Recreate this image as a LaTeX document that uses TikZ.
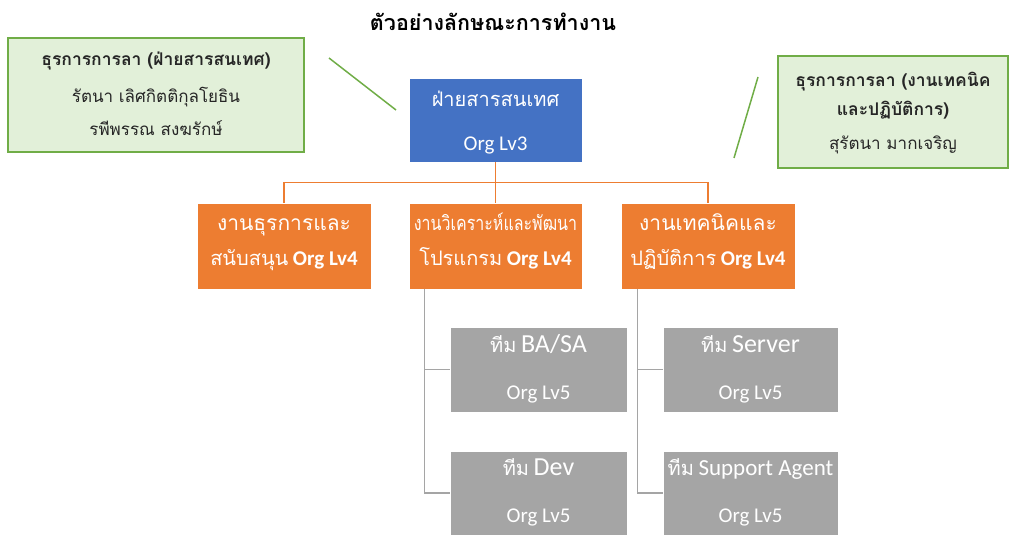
\documentclass[tikz,border=0pt]{standalone}
\usepackage{fontspec}
\usepackage{graphicx}
\setmainfont{Carlito}
\newfontfamily\thaifont[Script=Thai]{Loma}
\newcommand\tht[1]{{\thaifont #1}}
\definecolor{cblue}{HTML}{4472C4}
\definecolor{corange}{HTML}{ED7D31}
\definecolor{cgray}{HTML}{A5A5A5}
\definecolor{cgreenfill}{HTML}{E2F0D9}
\definecolor{cgreenline}{HTML}{70AD47}
\definecolor{ctext}{HTML}{262626}
\tikzset{
  boxbase/.style={rectangle, inner sep=0pt, draw=white, line width=0.6pt},
  bluebox/.style={boxbase, fill=cblue, minimum width=173pt, minimum height=84pt},
  orangebox/.style={boxbase, fill=corange, minimum width=174pt, minimum height=86pt},
  graybox/.style={boxbase, fill=cgray, minimum width=177pt, minimum height=85pt},
  notebox/.style={rectangle, inner sep=0pt, fill=cgreenfill, draw=cgreenline, line width=1.5pt},
  wtext/.style={inner sep=0pt, text=white, font=\fontsize{20}{24}\selectfont, text height=14pt, text depth=5pt},
  ltext/.style={inner sep=0pt, text=white, font=\fontsize{21}{24}\selectfont, text height=14pt, text depth=5pt},
  ntext/.style={inner sep=0pt, text=ctext, font=\fontsize{17}{20}\selectfont, text height=12pt, text depth=4pt},
  nbold/.style={ntext, font=\fontsize{17.5}{20}\selectfont\bfseries},
  orangeline/.style={draw=corange, line width=1.5pt},
  grayline/.style={draw=cgray, line width=1.5pt},
  greenline/.style={draw=cgreenline, line width=1.5pt},
}
\begin{document}
\begin{tikzpicture}[x=1pt,y=-1pt]
\useasboundingbox (0,0) rectangle (1009,535);
% title
\node[inner sep=0pt, text=black, font=\fontsize{21.5}{26}\selectfont\bfseries] (title) at (493,22) {\tht{ตัวอย่างลักษณะการทำงาน}};
% note boxes
\node[notebox, minimum width=296pt, minimum height=114pt] (noteL) at (156,95) {};
\node[nbold] (noteL1) at (156,62) {\tht{ธุรการการลา (ฝ่ายสารสนเทศ)}};
\node[ntext] (noteL2) at (156,98) {\tht{รัตนา เลิศกิตติกุลโยธิน}};
\node[ntext] (noteL3) at (156,131) {\tht{รพีพรรณ สงฆรักษ์}};
\node[notebox, minimum width=230pt, minimum height=112pt] (noteR) at (893,112) {};
\node[nbold] (noteR1) at (893,82) {\tht{ธุรการการลา (งานเทคนิค}};
\node[nbold] (noteR2) at (893,111) {\tht{และปฏิบัติการ)}};
\node[ntext] (noteR3) at (893,145) {\tht{สุรัตนา มากเจริญ}};
% blue
\node[bluebox] (lv3) at (495.5,120) {};
\node[wtext] (lv3a) at (495.5,102) {\tht{ฝ่ายสารสนเทศ}};
\node[ltext] (lv3b) at (495.5,146) {Org Lv3};
% orange
\node[orangebox] (o1) at (284,246) {};
\node[wtext, font=\fontsize{21}{24}\selectfont] (o1a) at (284,226) {\tht{งานธุรการและ}};
\node[wtext] (o1b) at (284,261) {\tht{สนับสนุน} {\fontsize{21}{24}\selectfont\bfseries Org Lv4}};
\node[orangebox, minimum width=173pt] (o2) at (495.5,246) {};
\node[wtext] (o2a) at (495.5,226) {\scalebox{0.8}[1]{\tht{งานวิเคราะห์และพัฒนา}}};
\node[wtext] (o2b) at (495.5,261) {\tht{โปรแกรม} {\fontsize{21}{24}\selectfont\bfseries Org Lv4}};
\node[orangebox] (o3) at (708,246) {};
\node[wtext, font=\fontsize{21}{24}\selectfont] (o3a) at (708,226) {\tht{งานเทคนิคและ}};
\node[wtext] (o3b) at (708,261) {\tht{ปฏิบัติการ} {\fontsize{21}{24}\selectfont\bfseries Org Lv4}};
% gray
\node[graybox] (ba) at (538.5,369.5) {};
\node[wtext] (baa) at (538.5,348) {\tht{ทีม} {\fontsize{26}{30}\selectfont BA/SA}};
\node[ltext] (bab) at (538.5,395) {Org Lv5};
\node[graybox, minimum height=84pt] (dev) at (538.5,493) {};
\node[wtext] (deva) at (538.5,471) {\tht{ทีม} {\fontsize{26}{30}\selectfont Dev}};
\node[ltext] (devb) at (538.5,518) {Org Lv5};
\node[graybox, minimum width=175pt] (srv) at (750.5,369.5) {};
\node[wtext] (srva) at (750.5,348) {\tht{ทีม} {\fontsize{26}{30}\selectfont Server}};
\node[ltext] (srvb) at (750.5,395) {Org Lv5};
\node[graybox, minimum width=175pt, minimum height=84pt] (sup) at (750.5,493) {};
\node[wtext] (supa) at (750.5,471) {\tht{ทีม} {\fontsize{23}{28}\selectfont Support Agent}};
\node[ltext] (supb) at (750.5,518) {Org Lv5};
% connectors
\draw[orangeline] (lv3.south) -- (o2.north);
\draw[orangeline] (o1.north) -- ++(0,-20) -| (o3.north);
\draw[grayline] ([xshift=16pt]o2.south west) |- (dev.west);
\draw[grayline] (ba.west) -- ++(-25,0);
\draw[grayline] ([xshift=17pt]o3.south west) |- (sup.west);
\draw[grayline] (srv.west) -- ++(-25,0);
% note pointer lines
\coordinate (pl1) at (329,58);
\coordinate (pl2) at (396,110);
\coordinate (pr1) at (758,77);
\coordinate (pr2) at (734,158);
\draw[greenline] (pl1) -- (pl2);
\draw[greenline] (pr1) -- (pr2);
\end{tikzpicture}
\end{document}
